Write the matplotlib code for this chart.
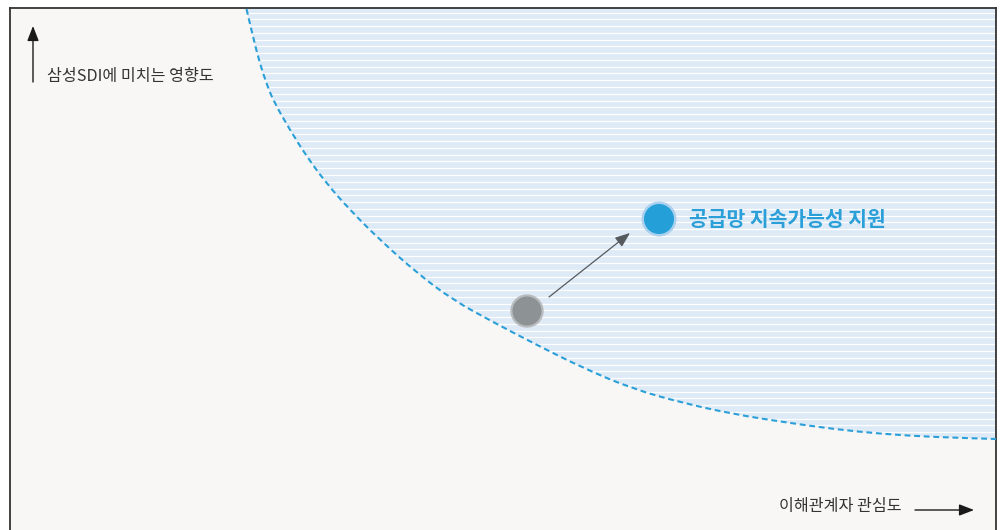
import matplotlib.pyplot as plt
import numpy as np
from matplotlib.patches import PathPatch, Circle
from matplotlib.path import Path

plt.rcParams['font.family'] = ['Noto Sans CJK KR', 'DejaVu Sans']

# canvas is laid out in pixel units (x right, y down)
W, H = 1002, 530

# boundary of the "high impact" zone
boundary_x = [246.5, 253, 260, 267, 274, 290, 307, 327, 350, 380, 417, 453, 493,
              533, 583, 633, 683, 733, 783, 833, 883, 933, 996]
boundary_y = [9, 37, 64, 85, 102, 130, 157, 184, 210, 240, 273, 300, 322,
              343, 368, 389, 403, 414, 422, 429, 434, 437, 439]

# issue positions: before -> after
issue_label = "공급망 지속가능성 지원"
start_pt = (527, 311)
end_pt = (659, 219)

y_axis_label = "삼성SDI에 미치는 영향도"
x_axis_label = "이해관계자 관심도"

bg = "#f8f7f5"
fill_blue = "#deeaf6"
line_blue = "#2a9fd8"


def smooth_path(xs, ys, close_to=None):
    # quadratic bezier through the midpoints, read points act as controls
    pts = list(zip(xs, ys))
    verts = [pts[0]]
    codes = [Path.MOVETO]
    for p, q in zip(pts[1:-1], pts[2:]):
        verts += [p, ((p[0] + q[0]) / 2, (p[1] + q[1]) / 2)]
        codes += [Path.CURVE3, Path.CURVE3]
    verts.append(pts[-1])
    codes.append(Path.LINETO)
    if close_to:
        for v in close_to:
            verts.append(v)
            codes.append(Path.LINETO)
        verts.append(pts[0])
        codes.append(Path.CLOSEPOLY)
    return Path(verts, codes)


fig = plt.figure(figsize=(W / 100, H / 100), dpi=100)
fig.patch.set_facecolor("white")
ax = fig.add_axes([10 / W, 0, (996 - 10) / W, (H - 8) / H])
ax.set_xlim(10, 996)
ax.set_ylim(H, 8)
ax.set_facecolor(bg)
ax.set_xticks([])
ax.set_yticks([])
for side in ["left", "top", "right"]:
    ax.spines[side].set_color("#333333")
    ax.spines[side].set_linewidth(1.3)
ax.spines["bottom"].set_visible(False)

# shaded zone with white horizontal stripes
zone = PathPatch(smooth_path(boundary_x, boundary_y, close_to=[(996, 8), (246.5, 8)]),
                 facecolor=fill_blue, edgecolor="none", zorder=1)
ax.add_patch(zone)
stripes = ax.hlines(np.arange(12.5, 445, 6.77), 10, 996, color="white", lw=0.9, zorder=2)
stripes.set_clip_path(zone)
ax.add_patch(PathPatch(smooth_path(boundary_x, boundary_y), facecolor="none",
                       edgecolor=line_blue, lw=1.5, linestyle=(0, (2.8, 1.8)), zorder=3))

# movement arrow
ax.annotate("", xy=(630, 233), xytext=(549, 297),
            arrowprops=dict(arrowstyle="-|>,head_length=0.9,head_width=0.35",
                            color="#555a5e", lw=0.9, shrinkA=0, shrinkB=0), zorder=4)

# issue markers
ax.add_patch(Circle(start_pt, 16.7, facecolor="#b9bcbe", edgecolor="none", zorder=5))
ax.add_patch(Circle(start_pt, 14.5, facecolor="#8d9294", edgecolor="none", zorder=6))
ax.add_patch(Circle(end_pt, 17.5, facecolor="#abd0ee", edgecolor="none", zorder=5))
ax.add_patch(Circle(end_pt, 15.0, facecolor="#259fd7", edgecolor="none", zorder=6))
ax.text(end_pt[0] + 30, end_pt[1], issue_label, color=line_blue, fontsize=14.7,
        fontweight="bold", ha="left", va="center", zorder=7)

# axis arrows and labels
ax.annotate("", xy=(33, 26), xytext=(33, 82),
            arrowprops=dict(arrowstyle="-|>,head_length=0.9,head_width=0.35",
                            color="#1a1a1a", lw=1.0, shrinkA=0, shrinkB=0))
ax.text(47, 76, y_axis_label, color="#333333", fontsize=11.6, ha="left", va="center")
ax.annotate("", xy=(974, 510), xytext=(915, 510),
            arrowprops=dict(arrowstyle="-|>,head_length=0.9,head_width=0.35",
                            color="#1a1a1a", lw=1.0, shrinkA=0, shrinkB=0))
ax.text(779, 506, x_axis_label, color="#333333", fontsize=11.6, ha="left", va="center")

fig.savefig("out.png", dpi=100, facecolor=fig.get_facecolor())
